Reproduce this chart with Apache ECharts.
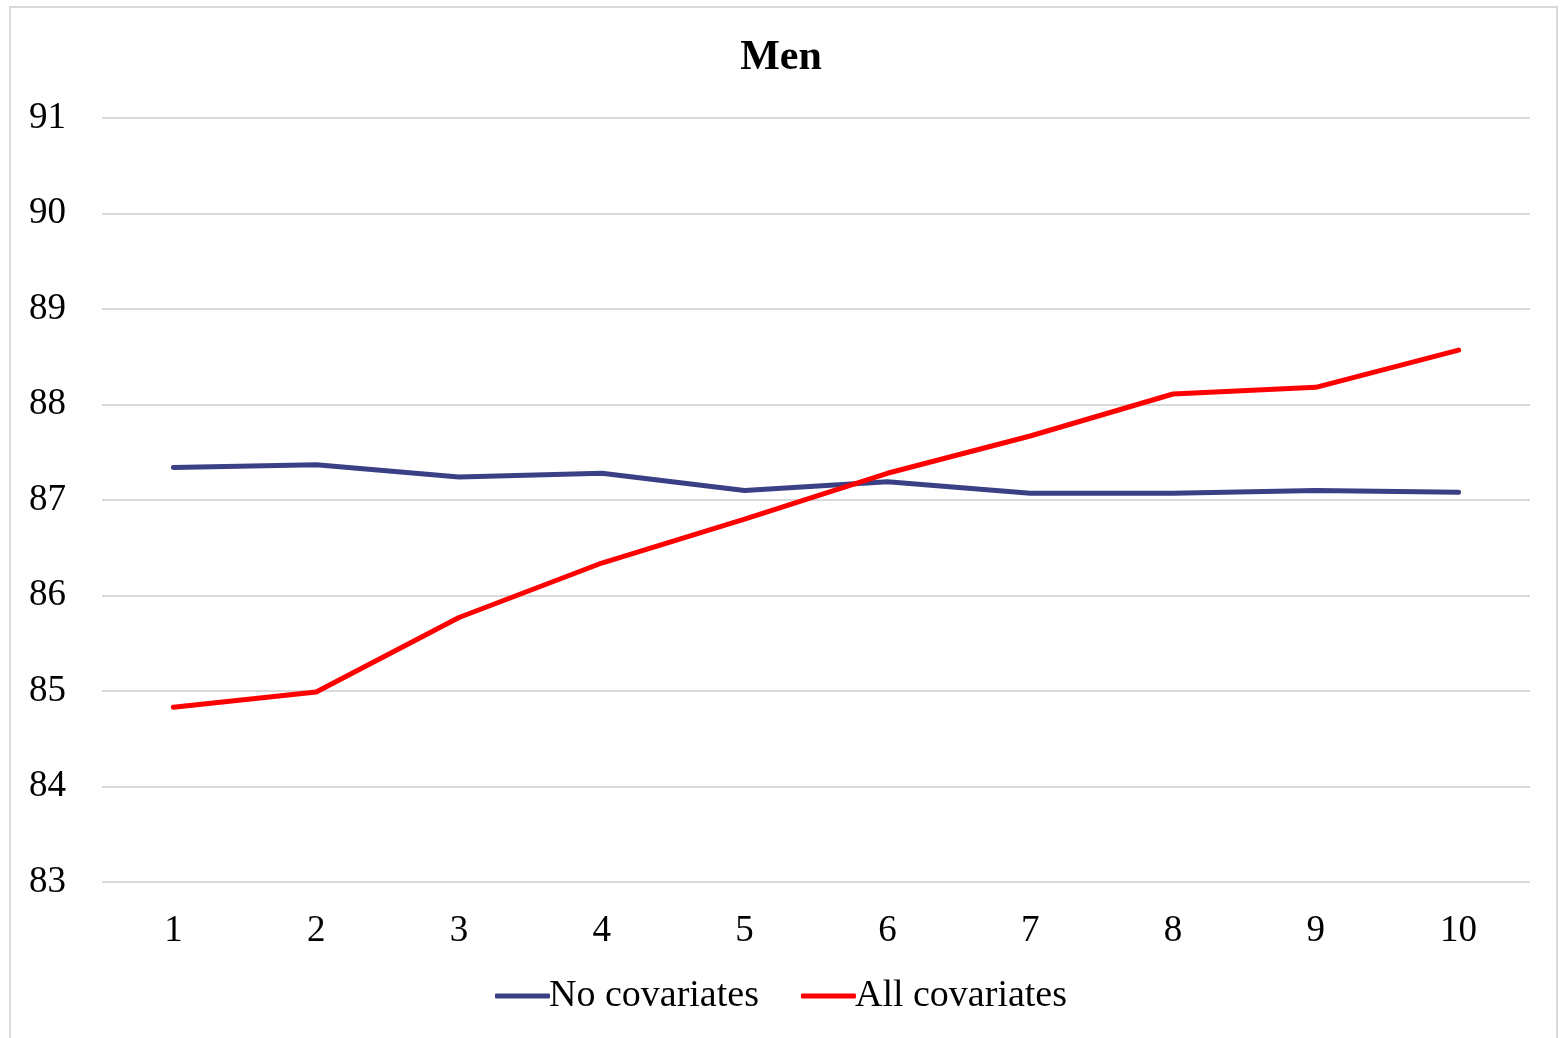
<!DOCTYPE html>
<html>
<head>
<meta charset="utf-8">
<script src="https://cdn.jsdelivr.net/npm/echarts@6/dist/echarts.min.js"></script>
<style>
html, body { margin: 0; padding: 0; background: #fff; }
#chart { width: 1562px; height: 1038px; }
</style>
</head>
<body>
<div id="chart"></div>
<script>
// data
const categories = ['1', '2', '3', '4', '5', '6', '7', '8', '9', '10'];
const noCovariates = [87.34, 87.37, 87.24, 87.28, 87.10, 87.19, 87.07, 87.07, 87.10, 87.08];
const allCovariates = [84.83, 84.99, 85.77, 86.34, 86.80, 87.28, 87.67, 88.11, 88.18, 88.57];

const font = 'Liberation Serif';

let mychart = echarts.init(document.getElementById('chart'));
mychart.setOption({
    animation: false,
    backgroundColor: '#fff',
    graphic: [{
        type: 'rect',
        shape: { x: 10, y: 7, width: 1547, height: 1040 },
        style: { fill: 'none', stroke: '#d9d9d9', lineWidth: 2 }
    }],
    title: {
        text: 'Men',
        left: 'center',
        top: 32,
        textStyle: { fontFamily: font, fontWeight: 'bold', fontSize: 42, color: '#000' }
    },
    legend: {
        bottom: 18,
        left: 'center',
        itemWidth: 55,
        itemHeight: 5,
        itemGap: 42,
        icon: 'roundRect',
        textStyle: { fontFamily: font, fontSize: 38, color: '#000', padding: [0, 0, 0, -6] },
        data: ['No covariates', 'All covariates']
    },
    grid: {
        left: 102,
        right: 32,
        top: 118,
        bottom: 156
    },
    xAxis: {
        type: 'category',
        data: categories,
        boundaryGap: true,
        axisLine: { show: false },
        axisTick: { show: false },
        axisLabel: { fontFamily: font, fontSize: 37, color: '#000', margin: 31 }
    },
    yAxis: {
        type: 'value',
        min: 83,
        max: 91,
        interval: 1,
        axisLine: { show: false },
        axisTick: { show: false },
        splitLine: { lineStyle: { color: '#d9d9d9', width: 2 } },
        axisLabel: { fontFamily: font, fontSize: 37, color: '#000', margin: 36 }
    },
    series: [
        {
            name: 'No covariates',
            type: 'line',
            data: noCovariates,
            symbol: 'none',
            color: '#3a3f86',
            lineStyle: { width: 5, color: '#3a3f86', cap: 'round' }
        },
        {
            name: 'All covariates',
            type: 'line',
            data: allCovariates,
            symbol: 'none',
            color: '#ff0000',
            lineStyle: { width: 5, color: '#ff0000', cap: 'round' }
        }
    ]
});
</script>
</body>
</html>
